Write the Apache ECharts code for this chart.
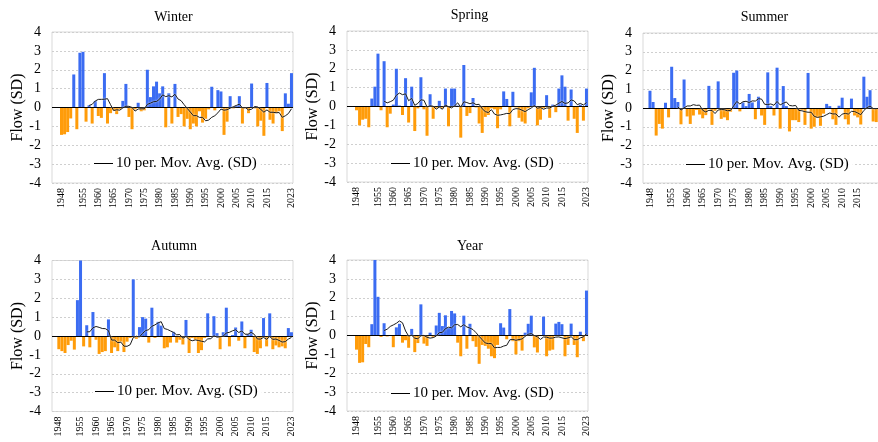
<!DOCTYPE html>
<html>
<head>
<meta charset="utf-8">
<script src="https://cdn.jsdelivr.net/npm/echarts@6/dist/echarts.min.js"></script>
<style>
  html, body { margin: 0; padding: 0; background: #fff; }
  #chart { width: 878px; height: 442px; }
</style>
</head>
<body>
<div id="chart"></div>
<script>
// years on the x axis
const years = [
  1948, 1949, 1950, 1951, 1952, 1953, 1954, 1955, 1956, 1957,
  1958, 1959, 1960, 1961, 1962, 1963, 1964, 1965, 1966, 1967,
  1968, 1969, 1970, 1971, 1972, 1973, 1974, 1975, 1976, 1977,
  1978, 1979, 1980, 1981, 1982, 1983, 1984, 1985, 1986, 1987,
  1988, 1989, 1990, 1991, 1992, 1993, 1994, 1995, 1996, 1997,
  1998, 1999, 2000, 2001, 2002, 2003, 2004, 2005, 2006, 2007,
  2008, 2009, 2010, 2011, 2012, 2013, 2014, 2015, 2016, 2017,
  2018, 2019, 2020, 2021, 2022, 2023
];
// years that get a tick label
const xTickYears = [1948, 1955, 1960, 1965, 1970, 1975, 1980, 1985, 1990, 1995, 2000, 2005, 2010, 2015, 2023];

// standardized flow (SD), one value per year
const winter = [
  -1.45, -1.42, -1.3, -0.58, 1.75, -1.15, 2.9, 2.95, -0.75, 0.12,
  -0.85, 0.35, -0.45, -0.55, 1.82, -0.85, -0.3, -0.15, -0.35, -0.1,
  0.35, 1.25, -0.5, -1.15, -0.1, 0.25, -0.2, -0.15, 2.0, 0.55,
  1.12, 1.37, 0.75, 1.12, -1.05, 0.75, -0.85, 1.25, -0.5, -0.35,
  -1.0, -0.6, -1.15, -0.85, -1.0, -0.2, -0.8, -0.6, -0.1, 1.1,
  -0.15, 0.92, 0.85, -1.45, -0.75, 0.6, -0.05, 0.1, 0.6, -0.85,
  -0.05, -0.3, 1.27, -0.05, -1.0, -0.7, -1.5, 1.3, -0.65, -0.85,
  -0.3, -0.2, -1.25, 0.75, 0.2, 1.82
];
const spring = [
  -0.2, -1.0, -0.7, -0.65, -1.1, 0.42, 1.05, 2.8, -0.2, 2.4,
  -1.1, -0.38, 0.1, 2.0, 0.05, -0.45, 1.5, -0.85, 1.05, -1.3,
  -0.1, 1.55, -0.15, -1.55, 0.65, -0.65, -0.1, 0.3, -0.1, 0.95,
  -1.05, 0.95, 0.95, 0.05, -1.65, 2.2, -0.5, -0.35, 0.45, -0.05,
  -0.9, -1.4, -0.55, -0.45, -0.1, -0.15, -1.15, -0.15, 0.8, 0.4,
  -1.05, 0.78, -0.05, -0.6, -0.8, -0.9, -0.1, 0.75, 2.05, -1.0,
  -0.7, -0.1, 0.6, -0.6, 0.1, -0.3, 0.95, 1.65, 1.05, -0.75,
  0.9, -0.65, -1.4, 0.1, -0.75, 0.95
];
// the last two summer years fall outside the cropped picture
const summer = [
  0.92, 0.32, -1.47, -0.85, -1.1, 0.28, -0.5, 2.2, 0.53, 0.32,
  -0.87, 1.52, -0.45, -0.85, -0.4, -0.1, -0.35, -0.55, -0.38, 1.18,
  -0.9, -0.15, 1.42, -0.58, -0.5, -0.65, -0.2, 1.88, 2.0, -0.18,
  0.3, 0.1, 0.75, 0.3, -0.6, 0.6, -0.4, -0.9, 1.9, 0.1,
  -0.4, 2.15, -1.1, 1.17, 0.1, -1.25, -0.65, -0.65, -0.75, -0.1,
  -0.9, 1.87, -1.1, -1.0, -0.5, -0.95, -0.3, 0.22, 0.1, -0.6,
  -0.9, 0.12, 0.55, -0.6, -0.88, 0.5, -0.4, -0.5, -0.88, 1.67,
  0.6, 0.95, -0.72, -0.75, null, null
];
const autumn = [
  -0.7, -0.8, -0.9, -0.48, -0.25, -0.72, 1.9, 4.1, -0.55, 0.57,
  -0.6, 1.27, -0.2, -0.95, -0.85, -0.8, 0.88, -0.9, -0.6, -0.8,
  -0.3, -0.85, -0.3, -0.1, 3.0, -0.15, 0.47, 1.0, 0.92, -0.35,
  1.5, -0.1, 0.75, 0.55, -0.65, -0.6, -0.35, 0.22, -0.35, -0.2,
  -0.45, 0.85, -0.9, -0.1, -0.2, -0.9, -0.75, -0.1, 1.2, -0.05,
  1.05, 0.15, -0.7, 0.2, 1.5, -0.55, 0.05, 0.45, -0.25, 0.77,
  -0.65, 0.1, 0.33, -0.85, -0.95, -0.65, 0.95, -0.55, 1.2, -0.7,
  -0.5, -0.6, -0.55, -0.65, 0.42, 0.2
];
const yearly = [
  -0.75, -1.45, -1.42, -0.45, -0.62, 0.6, 4.1, 2.05, -0.08, 0.65,
  -0.05, 0.02, -0.62, 0.43, 0.62, -0.38, -0.25, -0.65, 0.35, -0.88,
  -0.4, 1.65, -0.43, -0.55, 0.15, -0.1, 0.53, 1.2, 0.5, 1.07,
  0.4, 1.3, 1.17, -0.38, -1.1, 1.05, -0.7, 0.62, -0.3, -0.6,
  -1.5, -0.5, -0.55, -0.7, -1.1, -1.2, -0.5, 0.65, 0.42, -0.2,
  1.4, -0.3, -1.0, -0.3, -0.8, 0.15, 0.62, 1.05, -0.63, -0.9,
  0.02, 1.0, -1.1, -0.8, -0.75, 0.63, 0.72, 0.6, -1.1, -0.5,
  0.63, -0.5, -1.15, 0.2, -0.3, 2.38
];

const maName = '10 per. Mov. Avg. (SD)';
const maPeriod = 10;

const BLUE = '#3b6cf2';
const ORANGE = '#ff9c0a';
const FONT = '"Liberation Serif", "Times New Roman", serif';

// trailing moving average of the bar values (what the legend line shows)
function movingAverage(vals, n) {
  return vals.map((v, i) => {
    if (i < n - 1) return null;
    const win = vals.slice(i - n + 1, i + 1);
    if (win.some(x => x == null)) return null;
    return win.reduce((a, b) => a + b, 0) / n;
  });
}

const panels = [
  { name: 'Winter', vals: winter, left: 52, top: 32, h: 151, xMin: 1944.9, tx: 168.5, ty: 5, lx: 92, ly: 155 },
  { name: 'Spring', vals: spring, left: 347, top: 31, h: 151, xMin: 1944.9, tx: 464.5, ty: 3, lx: 389, ly: 155 },
  { name: 'Summer', vals: summer, left: 643, top: 33, h: 150, xMin: 1945.75, tx: 759.5, ty: 5, lx: 684, ly: 156 },
  { name: 'Autumn', vals: autumn, left: 52, top: 260.5, h: 151, xMin: 1945.8, tx: 169, ty: 234, lx: 93, ly: 383 },
  { name: 'Year', vals: yearly, left: 347, top: 260, h: 151, xMin: 1944.9, tx: 465, ty: 234, lx: 389, ly: 385 }
];

const option = {
  animation: false,
  backgroundColor: '#fff',
  title: [], grid: [], xAxis: [], yAxis: [], legend: [], series: []
};

panels.forEach((p, k) => {
  option.title.push({
    text: p.name, left: p.tx, top: p.ty, textAlign: 'center',
    textStyle: { fontFamily: FONT, fontSize: 14, fontWeight: 'normal', color: '#000' }
  });
  option.grid.push({
    left: p.left, top: p.top, width: 241, height: p.h,
    containLabel: false, outerBoundsMode: 'none',
    show: true, borderColor: '#d9d9d9', borderWidth: 1
  });
  option.xAxis.push({
    type: 'value', gridIndex: k, min: p.xMin, max: 2023.5,
    axisLine: { show: false }, axisTick: { show: false }, splitLine: { show: false },
    axisLabel: {
      customValues: xTickYears, rotate: 90, margin: 5,
      formatter: v => String(v),
      fontFamily: FONT, fontSize: 10, color: '#000'
    }
  });
  option.yAxis.push({
    type: 'value', gridIndex: k, min: -4, max: 4, interval: 1,
    name: 'Flow (SD)', nameLocation: 'middle', nameGap: 26,
    nameTextStyle: { fontFamily: FONT, fontSize: 16, color: '#000' },
    axisLine: { show: false }, axisTick: { show: false },
    axisLabel: { fontFamily: FONT, fontSize: 14, color: '#000', margin: 11 },
    splitLine: { lineStyle: { color: '#cfcfcf', type: [2, 2], width: 1 } }
  });
  option.legend.push({
    data: [maName], left: p.lx, top: p.ly,
    backgroundColor: '#fff', padding: [1, 4, 1, 2],
    icon: 'rect', itemWidth: 19, itemHeight: 1, selectedMode: false,
    itemStyle: { color: '#000' },
    textStyle: { fontFamily: FONT, fontSize: 15, color: '#000', padding: [0, 0, 0, -2] }
  });

  const bars = [];
  p.vals.forEach((v, i) => { if (v != null) bars.push([years[i], v]); });
  option.series.push({
    type: 'bar', name: p.name, xAxisIndex: k, yAxisIndex: k,
    barWidth: 3, data: bars,
    itemStyle: { color: prm => (prm.value[1] >= 0 ? BLUE : ORANGE) },
    markLine: {
      silent: true, symbol: 'none', label: { show: false },
      lineStyle: { color: '#000', type: 'solid', width: 1 },
      data: [{ yAxis: 0 }]
    }
  });

  const ma = movingAverage(p.vals, maPeriod);
  option.series.push({
    type: 'line', name: maName, xAxisIndex: k, yAxisIndex: k,
    data: ma.map((v, i) => [years[i], v]).filter(d => d[1] != null),
    symbol: 'none', showSymbol: false, z: 5,
    lineStyle: { color: '#1a1a1a', width: 1, shadowColor: '#ffffff', shadowBlur: 2 },
    itemStyle: { color: '#000' }
  });
});

const chart = echarts.init(document.getElementById('chart'));
chart.setOption(option);
window.addEventListener('resize', () => chart.resize());
</script>
</body>
</html>
